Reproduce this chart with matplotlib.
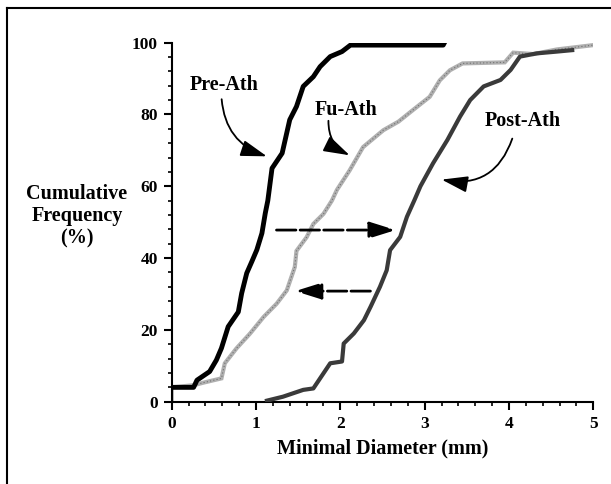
import numpy as np
import matplotlib
matplotlib.use('Agg')
import matplotlib.pyplot as plt
from matplotlib.ticker import MultipleLocator

plt.rcParams['font.family'] = ['Liberation Serif', 'DejaVu Serif']
plt.rcParams['font.weight'] = 'bold'

# cumulative curves (x = minimal diameter mm, y = %)
pre_x = [0, 0.26, 0.30, 0.45, 0.53, 0.59, 0.67, 0.79, 0.83, 0.89, 0.95, 1.01, 1.07,
         1.11, 1.14, 1.19, 1.31, 1.40, 1.48, 1.56, 1.68, 1.76, 1.88, 2.02, 2.12, 3.22, 3.24]
pre_y = [4, 4, 6, 8.4, 11.6, 14.9, 20.9, 25, 30.2, 35.8, 39, 42.3, 46.9,
         52.5, 56, 65, 69.2, 78.5, 82.2, 87.8, 90.5, 93.3, 96.1, 97.5, 99.3, 99.3, 100.2]

fu_x = [0, 0, 0.26, 0.375, 0.59, 0.63, 0.77, 0.93, 1.09, 1.245, 1.365, 1.46, 1.48, 1.6,
        1.68, 1.8, 1.9, 1.96, 2.11, 2.27, 2.51, 2.69, 2.86, 3.06, 3.18, 3.30, 3.45,
        3.95, 4.05, 4.29, 4.57, 5.0]
fu_y = [0, 4, 4.6, 5.3, 6.5, 10.7, 14.9, 19, 23.6, 27.3, 31, 37.5, 42, 45.8,
        49.5, 52.3, 56, 59, 64.4, 70.9, 75.6, 78, 81.2, 84.9, 89.5, 92.3, 94.2,
        94.5, 97.2, 96.8, 98.1, 99.3]

post_x = [1.13, 1.32, 1.56, 1.68, 1.80, 1.88, 2.02, 2.04, 2.16, 2.28, 2.36, 2.47, 2.55,
          2.59, 2.71, 2.79, 2.88, 2.95, 3.10, 3.27, 3.42, 3.54, 3.70, 3.90, 4.02, 4.13,
          4.33, 4.57, 4.75]
post_y = [0.3, 1.4, 3.3, 3.7, 7.9, 10.7, 11.2, 16.2, 19, 22.7, 26.5, 32, 36.6,
          42.2, 45.9, 51.5, 56.2, 60, 66.4, 72.9, 79.4, 84, 87.8, 89.6, 92.4, 96.1,
          97, 97.5, 97.9]

fig = plt.figure(figsize=(6.11, 4.84), dpi=100)
ax = fig.add_axes([0.281, 0.170, 0.690, 0.742])

ax.plot(fu_x, fu_y, color='#b0b0b0', lw=3, solid_joinstyle='miter', zorder=2)
ax.plot(fu_x, fu_y, color='#707070', lw=0.8, ls=(0, (1, 2)), zorder=2)
ax.plot(post_x, post_y, color='#3a3a3a', lw=3, zorder=3)
ax.plot(pre_x, pre_y, color='black', lw=3.5, zorder=4)

ax.set_xlim(0, 5)
ax.set_ylim(0, 100)
ax.xaxis.set_major_locator(MultipleLocator(1))
ax.xaxis.set_minor_locator(MultipleLocator(0.2))
ax.yaxis.set_major_locator(MultipleLocator(20))
ax.yaxis.set_minor_locator(MultipleLocator(4))
ax.spines['top'].set_visible(False)
ax.spines['right'].set_visible(False)
for s in ['left', 'bottom']:
    ax.spines[s].set_linewidth(1.5)
ax.tick_params(which='major', direction='out', length=6, width=1.5, labelsize=12.5, pad=4)
ax.tick_params(which='minor', direction='out', length=3, width=1.2)

ax.set_xlabel('Minimal Diameter (mm)', fontsize=14.5, fontweight='bold', labelpad=5)
fig.text(0.126, 0.553, 'Cumulative\nFrequency\n(%)', fontsize=14.5, fontweight='bold',
         ha='center', va='center', linespacing=1.15)

# curve labels with curved arrows
kw = dict(fontsize=14.5, fontweight='bold', ha='center', va='center')
ax.text(0.62, 88.2, 'Pre-Ath', **kw)
ax.text(2.07, 81.2, 'Fu-Ath', **kw)
ax.text(4.16, 78.3, 'Post-Ath', **kw)

arr = dict(arrowstyle='-|>,head_length=0.8,head_width=0.25', color='black', lw=1.3,
           mutation_scale=20)
ax.annotate('', xy=(1.16, 68.1), xytext=(0.59, 85.0),
            arrowprops=dict(connectionstyle='arc3,rad=0.35', **arr))
ax.annotate('', xy=(2.14, 68.3), xytext=(1.86, 79.0),
            arrowprops=dict(connectionstyle='arc3,rad=0.35', **arr))
ax.annotate('', xy=(3.17, 62.0), xytext=(4.05, 74.0),
            arrowprops=dict(connectionstyle='arc3,rad=-0.45', **arr))

# horizontal shift arrows
darr = dict(arrowstyle='-|>,head_length=0.8,head_width=0.25', color='black', lw=2,
            mutation_scale=20, linestyle=(0, (7, 1.5)))
ax.annotate('', xy=(2.69, 47.8), xytext=(1.21, 47.8), arrowprops=darr)
ax.annotate('', xy=(1.43, 30.8), xytext=(2.39, 30.8), arrowprops=darr)

# frame around the figure (top and left only)
fig.add_artist(plt.Line2D([7 / 611, 1], [1 - 7.5 / 484, 1 - 7.5 / 484], color='black', lw=1.5))
fig.add_artist(plt.Line2D([7 / 611, 7 / 611], [0, 1 - 7.5 / 484], color='black', lw=1.5))

fig.savefig('out.png', dpi=100)
